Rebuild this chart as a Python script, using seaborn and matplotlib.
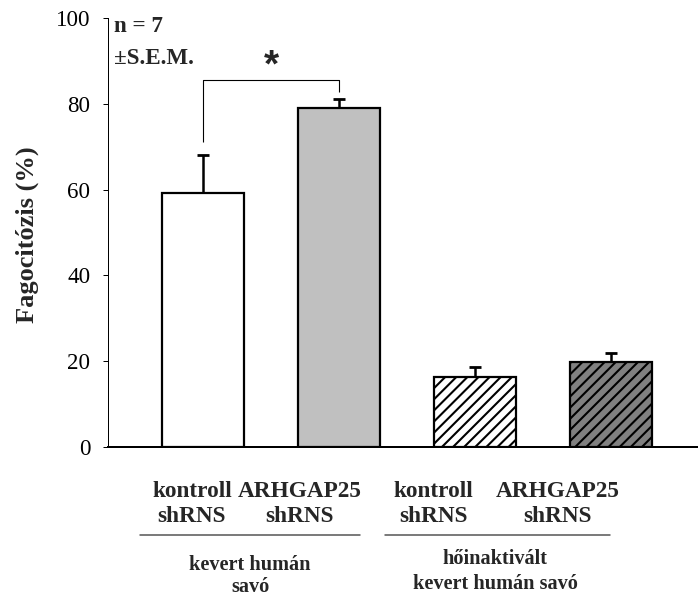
import matplotlib
matplotlib.use('Agg')
import matplotlib.pyplot as plt
from matplotlib.lines import Line2D
import seaborn as sns
import pandas as pd
import numpy as np

# ---- data ----
conditions = ['kontroll shRNS / kevert', 'ARHGAP25 shRNS / kevert',
              'kontroll shRNS / hőinaktivált', 'ARHGAP25 shRNS / hőinaktivált']
means = [59.3, 79.0, 16.4, 19.7]
sems = [8.7, 2.1, 2.3, 2.3]
label_top = ['kontroll', 'ARHGAP25', 'kontroll', 'ARHGAP25']
label_bottom = ['shRNS', 'shRNS', 'shRNS', 'shRNS']
group_top = ['kevert humán', 'hőinaktivált']
group_bottom = ['savó', 'kevert humán savó']
yticks = [0, 20, 40, 60, 80, 100]
info_lines = ['n = 7', '±S.E.M.']
signif = '*'

# ---- styles ----
fills = ['#ffffff', '#c0c0c0', '#ffffff', '#808080']
hatches = ['', '', '//////', '//////']

sns.set_theme(style='white')
plt.rcParams['font.family'] = ['Liberation Serif', 'DejaVu Serif']
plt.rcParams['hatch.linewidth'] = 0.75
plt.rcParams['hatch.color'] = 'black'

DPI = 200
W, H = 698, 597
fig = plt.figure(figsize=(W / DPI, H / DPI), dpi=DPI)
fig.patch.set_facecolor('white')


def fx(x):
    return x / W


def fy(y):
    return 1 - y / H


ax = fig.add_axes([fx(108), fy(447), (W - 108) / W, (447 - 18) / H])
ax.set_facecolor('white')

df = pd.DataFrame({'cond': conditions, 'mean': means})
sns.barplot(data=df, x='cond', y='mean', hue='cond', palette=fills,
            width=0.6, edgecolor='black', linewidth=0.8, legend=False,
            errorbar=None, saturation=1, ax=ax)
for patch, h in zip(ax.patches, hatches):
    patch.set_hatch(h)

xpos = np.arange(len(means))
eb = ax.errorbar(xpos, means, yerr=[np.zeros(len(sems)), sems], fmt='none',
                 ecolor='black', elinewidth=0.9, capsize=2.0, capthick=1.0,
                 zorder=3)
eb[1][0].set_visible(False)

# significance bracket
top0 = means[0] + sems[0]
top1 = means[1] + sems[1]
ybr = max(top0, top1) + 4.4
ax.plot([0, 0, 1, 1], [top0 + 3.0, ybr, ybr, top1 + 1.6], color='black',
        lw=0.4, solid_capstyle='butt')
ax.text(0.5, ybr + 3.3, signif, ha='center', va='center', fontsize=14,
        fontweight='bold', family='Liberation Sans')

ax.set_ylim(0, 100)
ax.set_xlim(-0.70, 3.64)
ax.set_yticks(yticks)
ax.set_yticklabels([str(t) for t in yticks])
ax.set_xlabel('')
ax.set_ylabel('')
ax.tick_params(axis='y', direction='out', length=1.8, width=0.36,
               labelsize=8.3, pad=4.5, left=True, colors='black')
ax.tick_params(axis='x', length=0, labelbottom=False)
for s in ['top', 'right']:
    ax.spines[s].set_visible(False)
ax.spines['left'].set_linewidth(0.36)
ax.spines['left'].set_color('black')
ax.spines['bottom'].set_linewidth(0.72)
ax.spines['bottom'].set_color('black')

# info text
fig.text(fx(114), fy(26), info_lines[0], ha='left', va='center',
         fontsize=8.3, fontweight='bold')
fig.text(fx(114), fy(58), info_lines[1], ha='left', va='center',
         fontsize=8.3, fontweight='bold')

# y label
fig.text(fx(27), fy(235), 'Fagocitózis (%)', rotation=90, ha='center',
         va='center', fontsize=9.5, fontweight='bold')

# category labels
label_x = [192, 300, 433, 558]
for x, t1, t2 in zip(label_x, label_top, label_bottom):
    fig.text(fx(x), fy(497), t1, ha='center', va='baseline', fontsize=8.4,
             fontweight='bold')
    fig.text(fx(x), fy(522), t2, ha='center', va='baseline', fontsize=8.4,
             fontweight='bold')

# group lines & labels
lines_x = [(140, 360), (385, 610)]
for (x0, x1) in lines_x:
    fig.add_artist(Line2D([fx(x0), fx(x1)], [fy(535), fy(535)],
                          color='#555555', lw=0.55))
group_x = [250, 495]
group_base = [(570, 592), (564, 589)]
for x, (b1, b2), t1, t2 in zip(group_x, group_base, group_top, group_bottom):
    fig.text(fx(x), fy(b1), t1, ha='center', va='baseline', fontsize=7.3,
             fontweight='bold')
    fig.text(fx(x), fy(b2), t2, ha='center', va='baseline', fontsize=7.3,
             fontweight='bold')

fig.savefig('out.png', dpi=DPI, facecolor='white')
